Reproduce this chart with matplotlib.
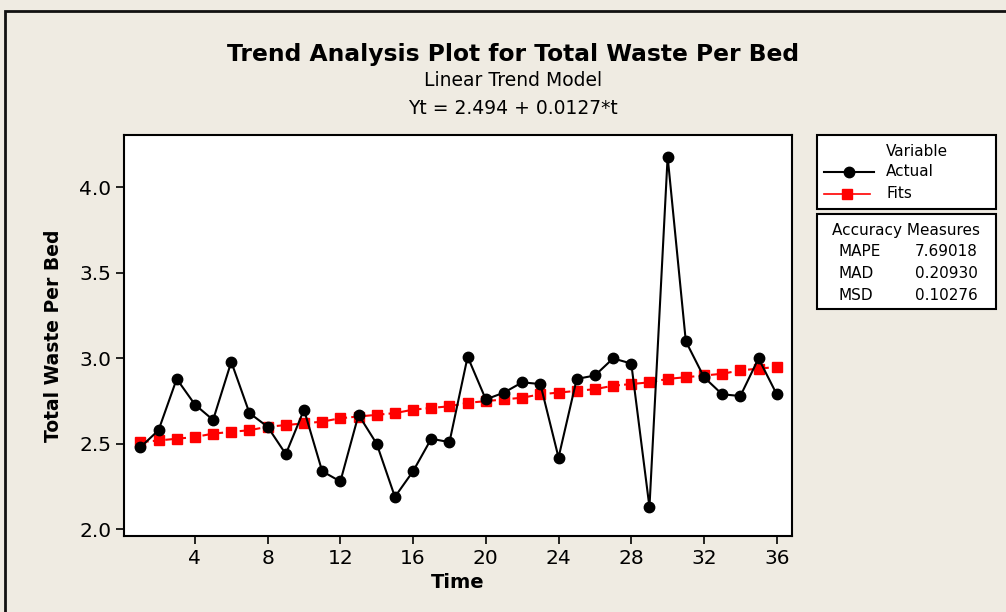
import matplotlib
matplotlib.use("Agg")
import matplotlib.pyplot as plt
from matplotlib.patches import Rectangle
from matplotlib.lines import Line2D

t = list(range(1, 37))
actual = [2.48, 2.58, 2.88, 2.73, 2.64, 2.98, 2.68, 2.60, 2.44, 2.70,
          2.34, 2.28, 2.67, 2.50, 2.19, 2.34, 2.53, 2.51, 3.01, 2.76,
          2.80, 2.86, 2.85, 2.42, 2.88, 2.90, 3.00, 2.97, 2.13, 4.18,
          3.10, 2.89, 2.79, 2.78, 3.00, 2.79]
fits = [2.51, 2.52, 2.53, 2.54, 2.56, 2.57, 2.58, 2.60, 2.61, 2.62,
        2.63, 2.65, 2.66, 2.67, 2.68, 2.70, 2.71, 2.72, 2.74, 2.75,
        2.76, 2.77, 2.79, 2.80, 2.81, 2.82, 2.84, 2.85, 2.86, 2.88,
        2.89, 2.90, 2.91, 2.93, 2.94, 2.95]
xticks = [4, 8, 12, 16, 20, 24, 28, 32, 36]
yticks = [2.0, 2.5, 3.0, 3.5, 4.0]
measures = ["MAPE", "MAD", "MSD"]
measure_vals = ["7.69018", "0.20930", "0.10276"]

bg = "#efebe2"
W, H = 1006, 612
fig = plt.figure(figsize=(W / 100, H / 100), dpi=100, facecolor=bg)

def fx(px):
    return px / W

def fy(py):
    return 1 - py / H

# outer frame (cut off at right / bottom like the original)
fig.add_artist(Rectangle((fx(5), fy(700)), fx(1100), fy(11) - fy(700),
                         transform=fig.transFigure, fill=False, lw=2, ec="#111"))

ax = fig.add_axes([fx(124), fy(536), fx(792 - 124), fy(135) - fy(536)])
ax.set_facecolor("white")

ax.plot(t, fits, color="red", ls=(0, (4, 2)), lw=1.5, marker="s", ms=7,
        mec="red", mfc="red", zorder=2)
ax.plot(t, actual, color="black", lw=1.5, marker="o", ms=7.5, zorder=3)

ax.set_xlim(0.1, 36.84)
ax.set_ylim(1.961, 4.307)
ax.set_xticks(xticks)
ax.set_yticks(yticks)
ax.set_yticklabels([f"{v:.1f}" for v in yticks])
ax.tick_params(direction="out", length=6, width=1.2, labelsize=14.5, pad=3)
for s in ax.spines.values():
    s.set_linewidth(1.5)

ax.set_xlabel("Time", fontsize=14, fontweight="bold", labelpad=4)
ax.set_ylabel("Total Waste Per Bed", fontsize=13.5, fontweight="bold", labelpad=12)

fig.text(fx(513), fy(54), "Trend Analysis Plot for Total Waste Per Bed",
         ha="center", va="center", fontsize=16.8, fontweight="bold")
fig.text(fx(513), fy(81), "Linear Trend Model", ha="center", va="center", fontsize=13.5)
fig.text(fx(513), fy(109), "Yt = 2.494 + 0.0127*t", ha="center", va="center", fontsize=13.5)

# legend boxes
for (top, bot) in [(135, 209), (214, 309)]:
    fig.add_artist(Rectangle((fx(817), fy(bot)), fx(996 - 817), fy(top) - fy(bot),
                             transform=fig.transFigure, fc="white", ec="black", lw=1.5))
fig.text(fx(917), fy(151), "Variable", ha="center", va="center", fontsize=11)
fig.add_artist(Line2D([fx(824), fx(874)], [fy(172), fy(172)], transform=fig.transFigure,
                      color="black", lw=1.5))
fig.add_artist(Line2D([fx(849)], [fy(172)], transform=fig.transFigure,
                      color="black", marker="o", ms=7.5, ls="none"))
fig.text(fx(886), fy(172), "Actual", ha="left", va="center", fontsize=11)
fig.add_artist(Line2D([fx(824), fx(870)], [fy(194), fy(194)], transform=fig.transFigure,
                      color="red", lw=1.2))
fig.add_artist(Line2D([fx(847)], [fy(194)], transform=fig.transFigure,
                      color="red", marker="s", ms=7, ls="none"))
fig.text(fx(886), fy(194), "Fits", ha="left", va="center", fontsize=11)

fig.text(fx(906), fy(230), "Accuracy Measures", ha="center", va="center", fontsize=11)
for i, (m, v) in enumerate(zip(measures, measure_vals)):
    yy = 252 + i * 21.5
    fig.text(fx(838), fy(yy), m, ha="left", va="center", fontsize=11)
    fig.text(fx(915), fy(yy), v, ha="left", va="center", fontsize=11)

fig.savefig("out.png", dpi=100, facecolor=bg)
